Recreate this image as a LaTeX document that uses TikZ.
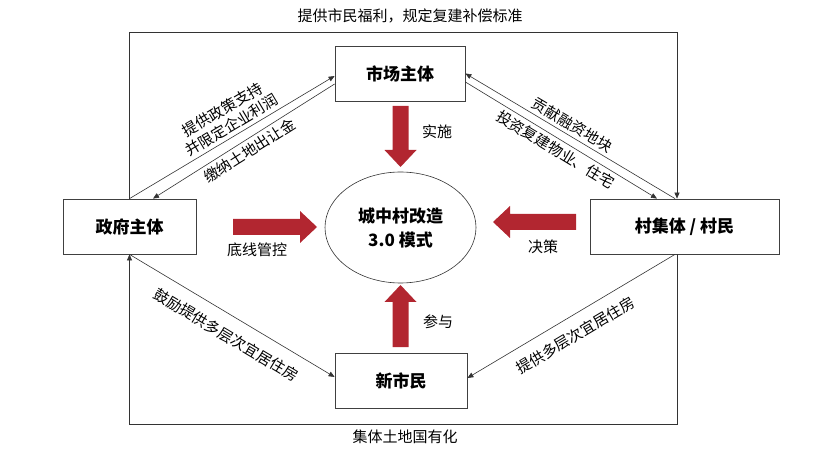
\documentclass[tikz,border=0pt]{standalone}
\usepackage{fontspec}
\setmainfont{Noto Sans CJK SC}
\usepackage{xcolor}
\usetikzlibrary{arrows.meta,shapes.geometric,positioning}
\definecolor{blockred}{RGB}{178,38,48}
% x, y, angle, length
\newcommand{\bigarrow}[4]{\fill[blockred,shift={(#1,#2)},rotate=#3] (0,-8) -- ({#4-17},-8) -- ({#4-17},-16) -- (#4,0) -- ({#4-17},16) -- ({#4-17},8) -- (0,8) -- cycle;}

\begin{document}
\begin{tikzpicture}[x=1pt,y=-1pt,>={Triangle[length=6pt,width=5pt]},
	box/.style={draw=black!75,line width=0.8pt,minimum height=55pt,font=\fontsize{17}{20}\selectfont\bfseries},
	link/.style={->,draw=black!80,line width=0.6pt},
	tag/.style={font=\fontsize{15}{18}\selectfont,align=center}]
			\useasboundingbox (0,0) rectangle (822,454);
			\node[box,minimum width=133pt] (gov) at (129.5,226.5) {政府主体};
			\node[box,minimum width=130pt] (market) at (400,73.5) {市场主体};
			\node[box,minimum width=189pt] (village) at (684.5,226.5) {村集体 / 村民};
			\node[box,minimum width=132pt] (newres) at (401,380.5) {新市民};
			\node[ellipse,draw=black!80,line width=0.6pt,minimum width=151pt,minimum height=111pt,align=center,font=\fontsize{17}{24}\selectfont\bfseries] (core) at (400.5,227.5) {城中村改造\\3.0 模式};
	
			% outer loop
			\coordinate (tr) at (677,32);
			\coordinate (br) at (677,424);
			\draw[link] (gov.north) -- (gov.north |- tr) -- (tr) -- (tr |- village.north);
			\draw[link] (br |- village.south) -- (br) -- (br -| gov.south) -- (gov.south);
			\node[tag] (welfare) at (410,16) {提供市民福利，规定复建补偿标准};
			\node[tag] (landnat) at (405,437) {集体土地国有化};
	
			\draw[link] (gov.north) -- node[tag,sloped,above,pos=0.525] (policy) {提供政策支持\\并限定企业利润} ([yshift=-2.5pt]market.west);
			\draw[link] ([yshift=-10.5pt]market.west) -- node[tag,sloped,below] (fee) {缴纳土地出让金} ([xshift=23.5pt]gov.north);
			\draw[link] ([xshift=-9.5pt]village.north) -- node[tag,sloped,above,pos=0.515] (finance) {贡献融资地块} (market.east);
			\draw[link] ([yshift=-8.5pt]market.east) -- node[tag,sloped,below] (invest) {投资复建物业、住宅} ([xshift=-27.5pt]village.north);
			\draw[link] (gov.south) -- node[tag,sloped,below=9pt,pos=0.52] (encourage) {鼓励提供多层次宜居住房} ([yshift=3.5pt]newres.west);
			\draw[link] ([xshift=-9.5pt]village.south) -- node[tag,sloped,below=8pt,pos=0.526] (supply) {提供多层次宜居住房} ([yshift=2.5pt]newres.east);
	
			% block arrows into the core
			\bigarrow{400.5}{106}{-90}{61}
			\bigarrow{233}{227}{0}{84}
			\bigarrow{576}{222}{180}{83}
			\bigarrow{400.5}{347}{90}{62}
			\node[tag] (act) at (437,132) {实施};
			\node[tag] (ctrl) at (257,250) {底线管控};
			\node[tag] (decide) at (543,247) {决策};
			\node[tag] (join) at (438,322) {参与};
			\end{tikzpicture}
\end{document}
